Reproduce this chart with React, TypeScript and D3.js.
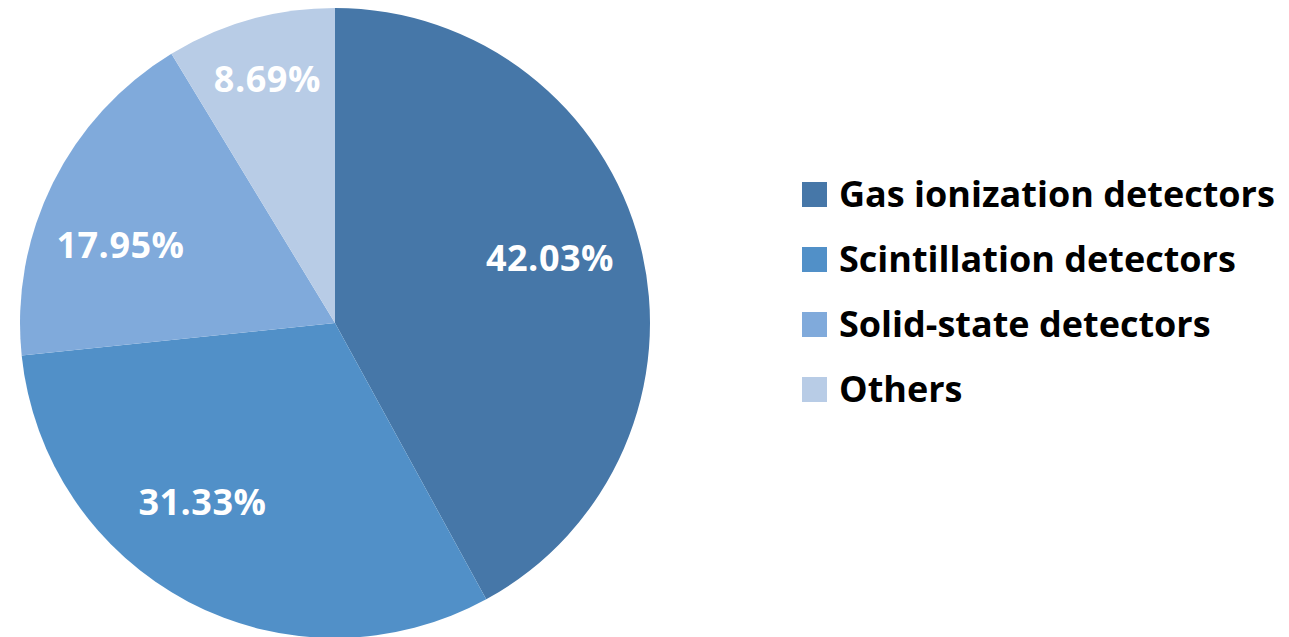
import React from "react";
import * as d3 from "d3";

const categories = ["Gas ionization detectors", "Scintillation detectors", "Solid-state detectors", "Others"];
const shares = [42.03, 31.33, 17.95, 8.69];
const colors = ["#4677A8", "#5190C8", "#80AADB", "#B8CCE6"];
const labelTexts = ["42.03%", "31.33%", "17.95%", "8.69%"];

const W = 1289;
const H = 637;
const cx = 335;
const cy = 323;
const R = 315;
const labelR = 225;
// fine placement offsets of the labels from the slice centroids (px)
const labelShift: [number, number][] = [
  [-3, -9],
  [-28, -20],
  [-13, 22],
  [-7, -27],
];

export default function App() {
  const pie = d3.pie<number>().sort(null).value((d) => d);
  const arcs = pie(shares);
  const arcGen = d3.arc<d3.PieArcDatum<number>>().innerRadius(0).outerRadius(R);
  const labelArc = d3.arc<d3.PieArcDatum<number>>().innerRadius(labelR).outerRadius(labelR);
  const legendY = d3.scaleLinear().domain([0, 1]).range([194, 259]);

  return (
    <svg width={W} height={H} style={{ position: "absolute", left: 0, top: 0, background: "#fff" }}>
      <g transform={`translate(${cx},${cy})`}>
        {arcs.map((a, i) => (
          <path key={i} d={arcGen(a) || ""} fill={colors[i]} />
        ))}
        {arcs.map((a, i) => {
          const c = labelArc.centroid(a);
          return (
            <text
              key={i}
              x={c[0] + labelShift[i][0]}
              y={c[1] + labelShift[i][1]}
              dy="0.36em"
              textAnchor="middle"
              fill="#fff"
              fontFamily="'Open Sans', sans-serif"
              fontWeight={700}
              fontSize={36}
              letterSpacing={0.5}
            >
              {labelTexts[i]}
            </text>
          );
        })}
      </g>
      {categories.map((c, i) => (
        <g key={c} transform={`translate(802,${legendY(i)})`}>
          <rect x={0} y={-12} width={25} height={25} fill={colors[i]} />
          <text
            x={37}
            y={0}
            dy="0.36em"
            fontFamily="'Open Sans', sans-serif"
            fontWeight={700}
            fontSize={36}
            fill="#000"
          >
            {c}
          </text>
        </g>
      ))}
    </svg>
  );
}
